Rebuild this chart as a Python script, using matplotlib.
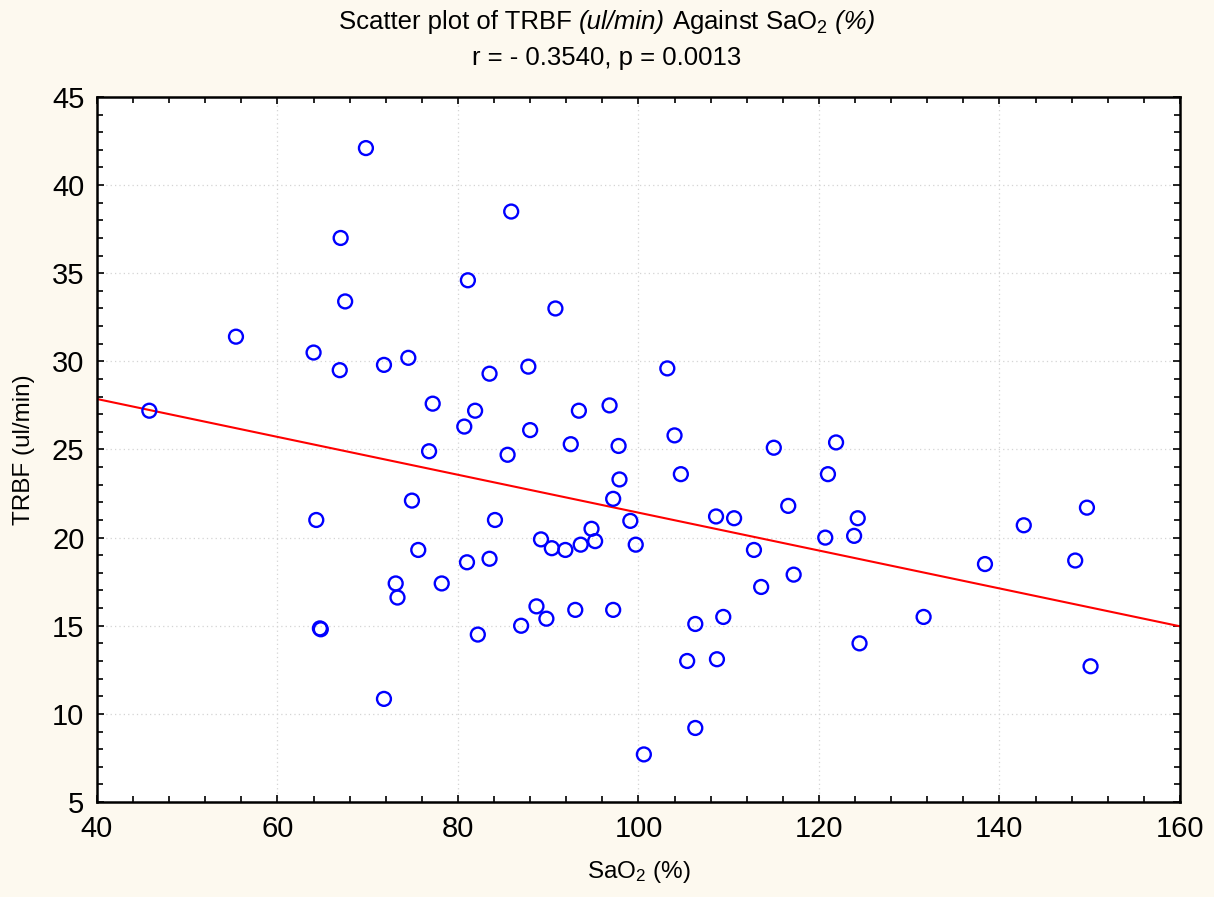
import numpy as np
import matplotlib.pyplot as plt
from matplotlib.ticker import MultipleLocator

plt.rcParams['font.family'] = ['Liberation Sans', 'DejaVu Sans']
plt.rcParams['mathtext.fontset'] = 'custom'
plt.rcParams['mathtext.rm'] = 'Liberation Sans'
plt.rcParams['mathtext.it'] = 'Liberation Sans:italic'

# SaO2 (%) and TRBF (ul/min) per subject
sao2 = [45.8, 55.4, 64.0, 64.3, 64.7, 64.8, 66.9, 67.0, 67.5, 69.8,
        71.8, 71.8, 73.1, 73.3, 74.5, 74.9, 75.6, 76.8, 77.2, 78.2,
        80.7, 81.0, 81.1, 81.9, 82.2, 83.5, 83.5, 84.1, 85.5, 85.9,
        87.0, 87.8, 88.0, 88.7, 89.2, 89.8, 90.4, 90.8, 91.9, 92.5,
        93.0, 93.4, 93.6, 94.8, 95.2, 96.8, 97.2, 97.2, 97.8, 97.9,
        99.1, 99.7, 100.6, 103.2, 104.0, 104.7, 105.4, 106.3, 106.3, 108.6,
        108.7, 109.4, 110.6, 112.8, 113.6, 115.0, 116.6, 117.2, 120.7, 121.0,
        121.9, 123.9, 124.3, 124.5, 131.6, 138.4, 142.7, 148.4, 149.7, 150.1]
trbf = [27.2, 31.4, 30.5, 21.0, 14.85, 14.8, 29.5, 37.0, 33.4, 42.1,
        29.8, 10.85, 17.4, 16.6, 30.2, 22.1, 19.3, 24.9, 27.6, 17.4,
        26.3, 18.6, 34.6, 27.2, 14.5, 29.3, 18.8, 21.0, 24.7, 38.5,
        15.0, 29.7, 26.1, 16.1, 19.9, 15.4, 19.4, 33.0, 19.3, 25.3,
        15.9, 27.2, 19.6, 20.5, 19.8, 27.5, 22.2, 15.9, 25.2, 23.3,
        20.95, 19.6, 7.7, 29.6, 25.8, 23.6, 13.0, 15.1, 9.2, 21.2,
        13.1, 15.5, 21.1, 19.3, 17.2, 25.1, 21.8, 17.9, 20.0, 23.6,
        25.4, 20.1, 21.1, 14.0, 15.5, 18.5, 20.7, 18.7, 21.7, 12.7]

x_range = [40, 160]
y_range = [5, 45]

# title pieces: (text, italic)
title_parts = [('Scatter plot of TRBF ', False), ('(ul/min)', True),
               (' Against SaO$_2$', False), (' (%)', True)]
subtitle = 'r = - 0.3540, p = 0.0013'

fig = plt.figure(figsize=(12.14, 8.97), dpi=100, facecolor='#fdf9ef')
ax = fig.add_axes([0.0799, 0.1059, 0.892, 0.786])
ax.set_facecolor('white')

ax.scatter(sao2, trbf, s=100, facecolors='none', edgecolors='#0000ff',
           linewidths=1.7, zorder=3)

# least squares line
slope, intercept = np.polyfit(sao2, trbf, 1)
xl = np.array(x_range)
ax.plot(xl, intercept + slope * xl, color='#ff0000', lw=1.5, zorder=2)

ax.set_xlim(x_range)
ax.set_ylim(y_range)
ax.xaxis.set_major_locator(MultipleLocator(20))
ax.xaxis.set_minor_locator(MultipleLocator(4))
ax.yaxis.set_major_locator(MultipleLocator(5))
ax.yaxis.set_minor_locator(MultipleLocator(1))
ax.tick_params(which='both', direction='in', top=True, right=True,
               labelsize=21, width=1.2)
ax.tick_params(which='major', length=5, pad=9)
ax.tick_params(which='minor', length=4)
ax.grid(True, which='major', ls=(0, (1, 2.5)), color='#d4d4d4', lw=0.9)
for s in ax.spines.values():
    s.set_linewidth(1.8)

ax.set_xlabel('SaO$_2$ (%)', fontsize=17.5, labelpad=12)
ax.set_ylabel('TRBF (ul/min)', fontsize=17.5, labelpad=12)

# title drawn piece by piece so that the units come out in italics
fig.canvas.draw()
r = fig.canvas.get_renderer()
fs = 18.5
pieces = []
for txt, it in title_parts:
    t = fig.text(0, 0.975, txt, fontsize=fs, va='center', ha='left',
                 style='italic' if it else 'normal')
    pieces.append(t)
widths = [p.get_window_extent(r).width for p in pieces]
x0 = (fig.bbox.width - sum(widths)) / 2
for p, w in zip(pieces, widths):
    p.set_x(x0 / fig.bbox.width)
    x0 += w
fig.text(0.5, 0.935, subtitle, ha='center', va='center', fontsize=fs)

fig.savefig('out.png', dpi=100, facecolor=fig.get_facecolor())
